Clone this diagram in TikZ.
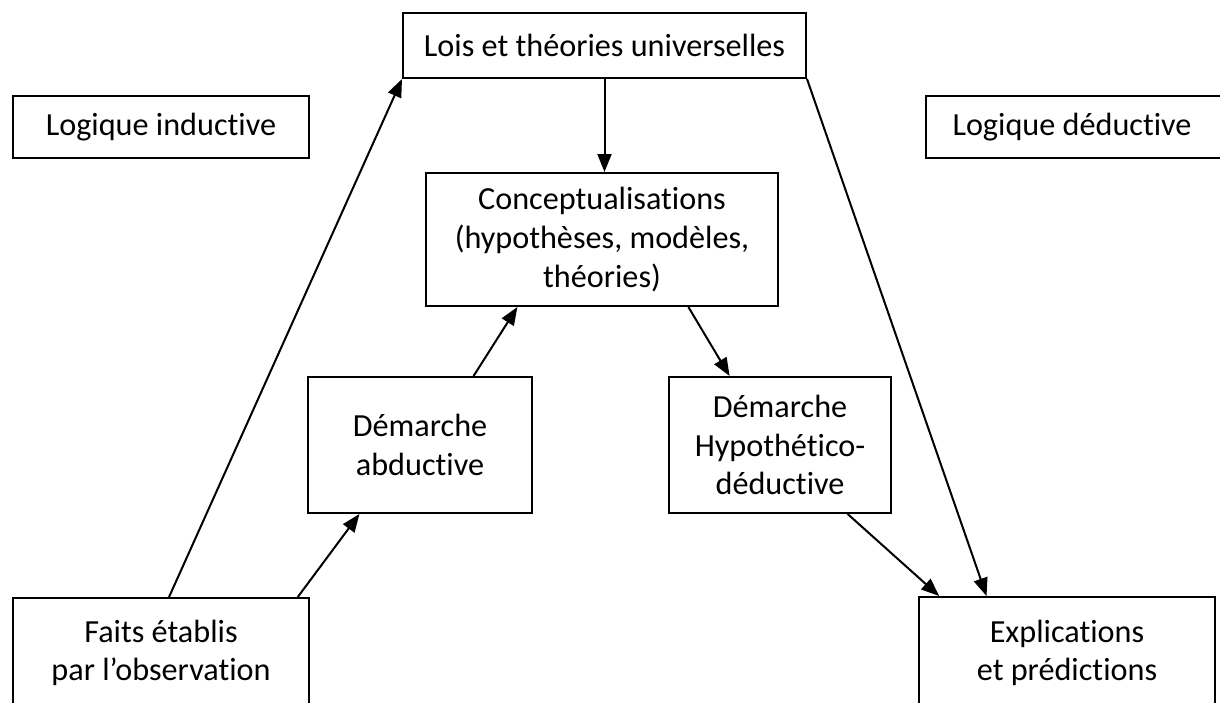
\documentclass[tikz,border=0pt]{standalone}
\usepackage{fontspec}
\setmainfont{Carlito}[Ligatures=NoCommon]
\usetikzlibrary{arrows.meta,calc,fit}
\begin{document}
\begin{tikzpicture}[x=0.5pt,y=-0.5pt,
  box/.style={draw,line width=1pt,inner sep=0pt},
  txt/.style={inner sep=0pt,align=center,
    font=\fontsize{16.1}{19.3}\selectfont},
  link/.style={line width=1pt,-{Triangle[length=9pt,width=7pt]}}]
\useasboundingbox (0,0) rectangle (1220,702);
\clip (0,0) rectangle (1220,702);

% boxes
\node[box,fit={(403,13) (806,78)}] (lois) {};
\node[box,fit={(13,96) (309,158)}] (ind) {};
\node[box,fit={(926,96) (1222,158)}] (ded) {};
\node[box,fit={(426,173) (778,306)}] (concept) {};
\node[box,fit={(308,377) (532,513)}] (abd) {};
\node[box,fit={(669,377) (891,513)}] (hyp) {};
\node[box,fit={(13,598) (309,708)}] (faits) {};
\node[box,fit={(919,597) (1215,709)}] (expl) {};

% box texts
\node[txt] (lois-t) at (lois) {Lois et théories universelles};
\node[txt] (ind-t) at (ind) {Logique inductive};
\node[txt] (ded-t) at ([xshift=-1pt]ded.center) {Logique déductive};
\node[txt] (concept-t) at (concept) {Conceptualisations\\(hypothèses, modèles,\\théories)};
\node[txt] (abd-t) at (abd) {Démarche\\abductive};
\node[txt] (hyp-t) at (hyp) {Démarche\\Hypothético-\\déductive};
\node[txt] (faits-t) at (faits) {Faits établis\\par l’observation};
\node[txt] (expl-t) at (expl) {Explications\\et prédictions};

% connectors
\draw[link] ($(faits.north west)!0.527!(faits.north east)$) -- (lois.south west);
\draw[link] ($(faits.north west)!0.959!(faits.north east)$) -- ($(abd.south west)!0.232!(abd.south east)$);
\draw[link] ($(abd.north west)!0.737!(abd.north east)$) -- ($(concept.south west)!0.261!(concept.south east)$);
\draw[link] (lois.south) -- (lois.south |- concept.north);
\draw[link] ($(concept.south west)!0.744!(concept.south east)$) -- ($(hyp.north west)!0.275!(hyp.north east)$);
\draw[link] ($(hyp.south west)!0.802!(hyp.south east)$) -- ($(expl.north west)!0.071!(expl.north east)$);
\draw[link] (lois.south east) -- ($(expl.north west)!0.23!(expl.north east)$);
\end{tikzpicture}
\end{document}
